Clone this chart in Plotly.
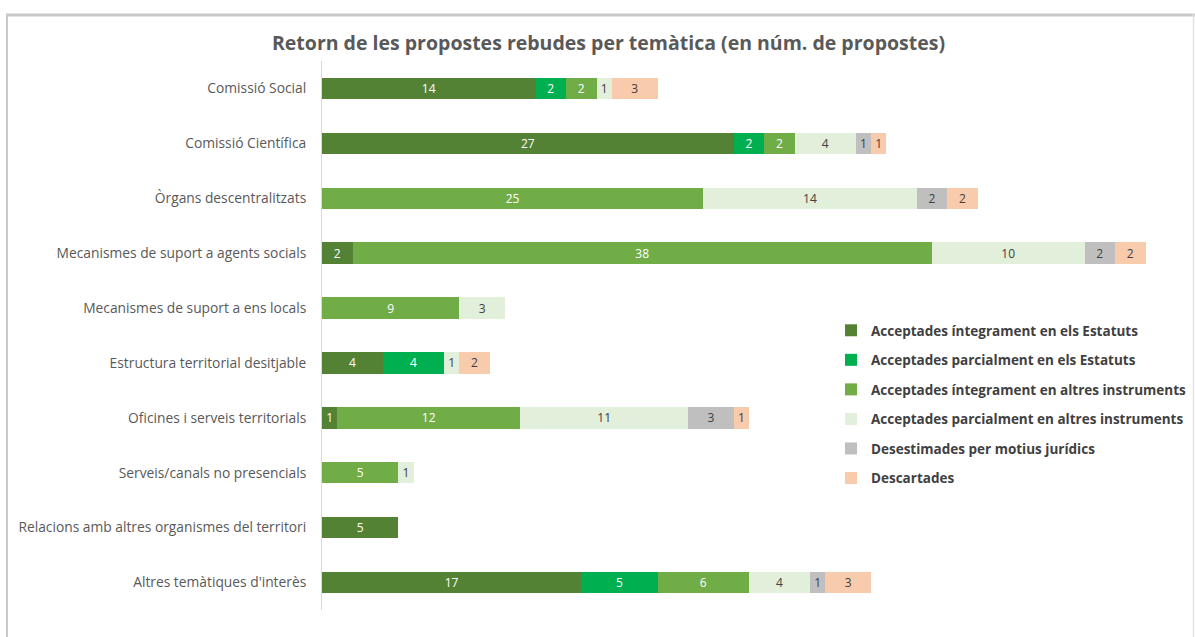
import plotly.graph_objects as go

categories = [
    "Comissió Social",
    "Comissió Científica",
    "Òrgans descentralitzats",
    "Mecanismes de suport a agents socials",
    "Mecanismes de suport a ens locals",
    "Estructura territorial desitjable",
    "Oficines i serveis territorials",
    "Serveis/canals no presencials",
    "Relacions amb altres organismes del territori",
    "Altres temàtiques d'interès",
]

series_names = [
    "Acceptades íntegrament en els Estatuts",
    "Acceptades parcialment en els Estatuts",
    "Acceptades íntegrament en altres instruments",
    "Acceptades parcialment en altres instruments",
    "Desestimades per motius jurídics",
    "Descartades",
]

integ_estatuts = [14, 27, 0, 2, 0, 4, 1, 0, 5, 17]
parc_estatuts = [2, 2, 0, 0, 0, 4, 0, 0, 0, 5]
integ_altres = [2, 2, 25, 38, 9, 0, 12, 5, 0, 6]
parc_altres = [1, 4, 14, 10, 3, 1, 11, 1, 0, 4]
desestimades = [0, 1, 2, 2, 0, 0, 3, 0, 0, 1]
descartades = [3, 1, 2, 2, 0, 2, 1, 0, 0, 3]

series_values = [integ_estatuts, parc_estatuts, integ_altres, parc_altres, desestimades, descartades]
colors = ["#548235", "#00B050", "#70AD47", "#E2EFDA", "#BFBFBF", "#F8CBAD"]
text_colors = ["#FFFFFF", "#FFFFFF", "#FFFFFF", "#404040", "#404040", "#404040"]

W, H = 1195, 637
L, R, T, B = 322, 19, 61, 27
PW, PH = W - L - R, H - T - B

def px(x):
    return (x - L) / PW

def py(y):
    return (H - B - y) / PH

fig = go.Figure()
for i, (name, vals) in enumerate(zip(series_names, series_values)):
    fig.add_trace(go.Bar(
        y=categories,
        x=vals,
        name=name,
        orientation="h",
        marker=dict(color=colors[i], line=dict(width=0)),
        text=[str(v) if v else "" for v in vals],
        textposition="inside",
        insidetextanchor="middle",
        constraintext="none",
        textangle=0,
        textfont=dict(color=text_colors[i], size=12, family="Open Sans"),
        hoverinfo="skip",
        legendgroup=f"g{i}",
    ))

frame_color = "#C9C9C9"
shapes = [
    dict(type="line", xref="paper", yref="paper", x0=px(6), x1=px(1195), y0=py(15), y1=py(15),
         line=dict(color=frame_color, width=3)),
    dict(type="line", xref="paper", yref="paper", x0=px(7), x1=px(7), y0=py(14), y1=py(640),
         line=dict(color=frame_color, width=2)),
    dict(type="line", xref="paper", yref="paper", x0=px(1193.5), x1=px(1193.5), y0=py(14), y1=py(640),
         line=dict(color="#E3E3E3", width=1.5)),
]

fig.update_layout(
    width=W, height=H,
    margin=dict(l=L, r=R, t=T, b=B, autoexpand=False),
    paper_bgcolor="white",
    plot_bgcolor="white",
    barmode="stack",
    bargap=0.61,
    title=dict(
        text="<b>Retorn de les propostes rebudes per temàtica (en núm. de propostes)</b>",
        x=608.5 / W, xref="container", xanchor="center",
        y=1 - 43 / H, yanchor="middle",
        font=dict(family="Open Sans", size=19.5, color="#595959"),
    ),
    xaxis=dict(range=[0, 56], visible=False, showgrid=False, zeroline=False, fixedrange=True),
    yaxis=dict(
        autorange="reversed",
        showline=True, linecolor="#D9D9D9", linewidth=1,
        showgrid=False, ticks="", ticklen=0,
        tickfont=dict(family="Open Sans", size=13.8, color="#595959"),
        ticklabelstandoff=12,
        automargin=False,
        fixedrange=True,
    ),
    legend=dict(
        x=px(1192), y=py(315), xanchor="right", yanchor="top",
        font=dict(family="Open Sans", size=13.5, color="#404040", weight="bold"),
        bgcolor="rgba(0,0,0,0)",
        tracegroupgap=9,
        itemwidth=30,
        traceorder="grouped",
        itemclick=False,
        itemdoubleclick=False,
    ),
    uniformtext=dict(minsize=12, mode="show"),
    shapes=shapes,
    showlegend=True,
)

fig.write_html(
    "out.html",
    config={"displayModeBar": False},
    post_script="document.body.style.margin='0';document.body.style.padding='0';document.body.style.overflow='hidden';",
)
